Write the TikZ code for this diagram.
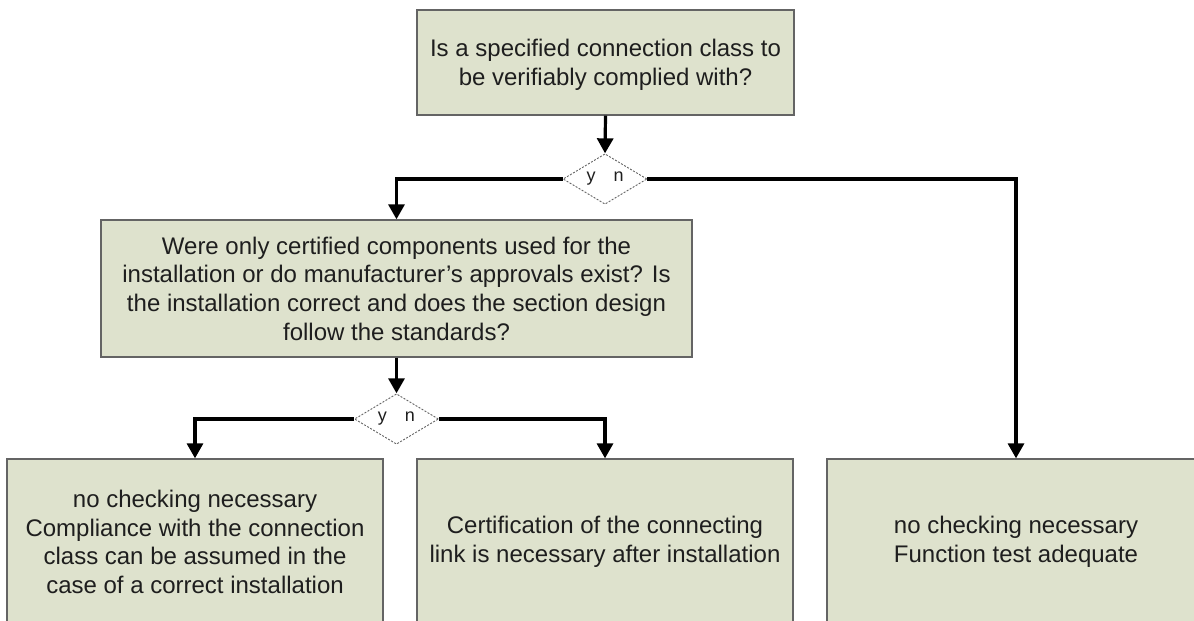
\documentclass[tikz,border=0pt]{standalone}
\usepackage{fontspec}
\setmainfont{Liberation Sans}
\usetikzlibrary{shapes.geometric,arrows.meta}
\definecolor{boxfill}{RGB}{222,226,205}
\definecolor{boxline}{RGB}{100,100,100}
\definecolor{txt}{RGB}{30,30,30}
\tikzset{
  qbox/.style={draw=boxline, line width=1.3pt, fill=boxfill, rectangle, inner sep=0pt,
    align=center, text=txt, font=\fontsize{24}{28.7}\selectfont},
  dec/.style={diamond, draw=boxline, dashed, dash pattern=on 2pt off 1.5pt, line width=0.9pt,
    fill=white, inner sep=0pt, minimum width=84pt, minimum height=49pt,
    text=txt, font=\fontsize{18}{20}\selectfont},
  flow/.style={line width=3.2pt, -{Triangle[width=16pt,length=15pt]}}
}
\begin{document}
\begin{tikzpicture}[x=1pt,y=-1pt]
\useasboundingbox (0,0) rectangle (1194,621);
\clip (0,0) rectangle (1194,621);
\fill[white] (0,0) rectangle (1194,621);
\node[qbox, minimum width=377pt, minimum height=105pt] (top) at (605.5,62.5)
  {\rule{0pt}{22pt}Is a specified connection class to\\be verifiably complied with?};
\node[dec] (d1) at (605,179) {y\hspace{18pt}n};
\node[qbox, minimum width=591pt, minimum height=137pt] (mid) at (396.5,288.5)
  {Were only certified components used for the\\installation or do manufacturer's approvals exist? Is\\the installation correct and does the section design\\follow the standards?};
\node[dec] (d2) at (396.5,419) {y\hspace{18pt}n};
\node[qbox, minimum width=376pt, minimum height=166pt] (bl) at (195,542)
  {no checking necessary\\Compliance with the connection\\class can be assumed in the\\case of a correct installation};
\node[qbox, minimum width=376pt, minimum height=166pt] (bm) at (605,542)
  {Certification of the connecting\\link is necessary after installation};
\node[qbox, minimum width=378pt, minimum height=166pt] (br) at (1016,542)
  {no checking necessary\\Function test adequate};
\draw[flow] (top.south) -- (d1.north);
\draw[flow] (d1.west) -| (mid.north);
\draw[flow] (d1.east) -| (br.north);
\draw[flow] (mid.south) -- (d2.north);
\draw[flow] (d2.west) -| (bl.north);
\draw[flow] (d2.east) -| (bm.north);
\end{tikzpicture}
\end{document}
